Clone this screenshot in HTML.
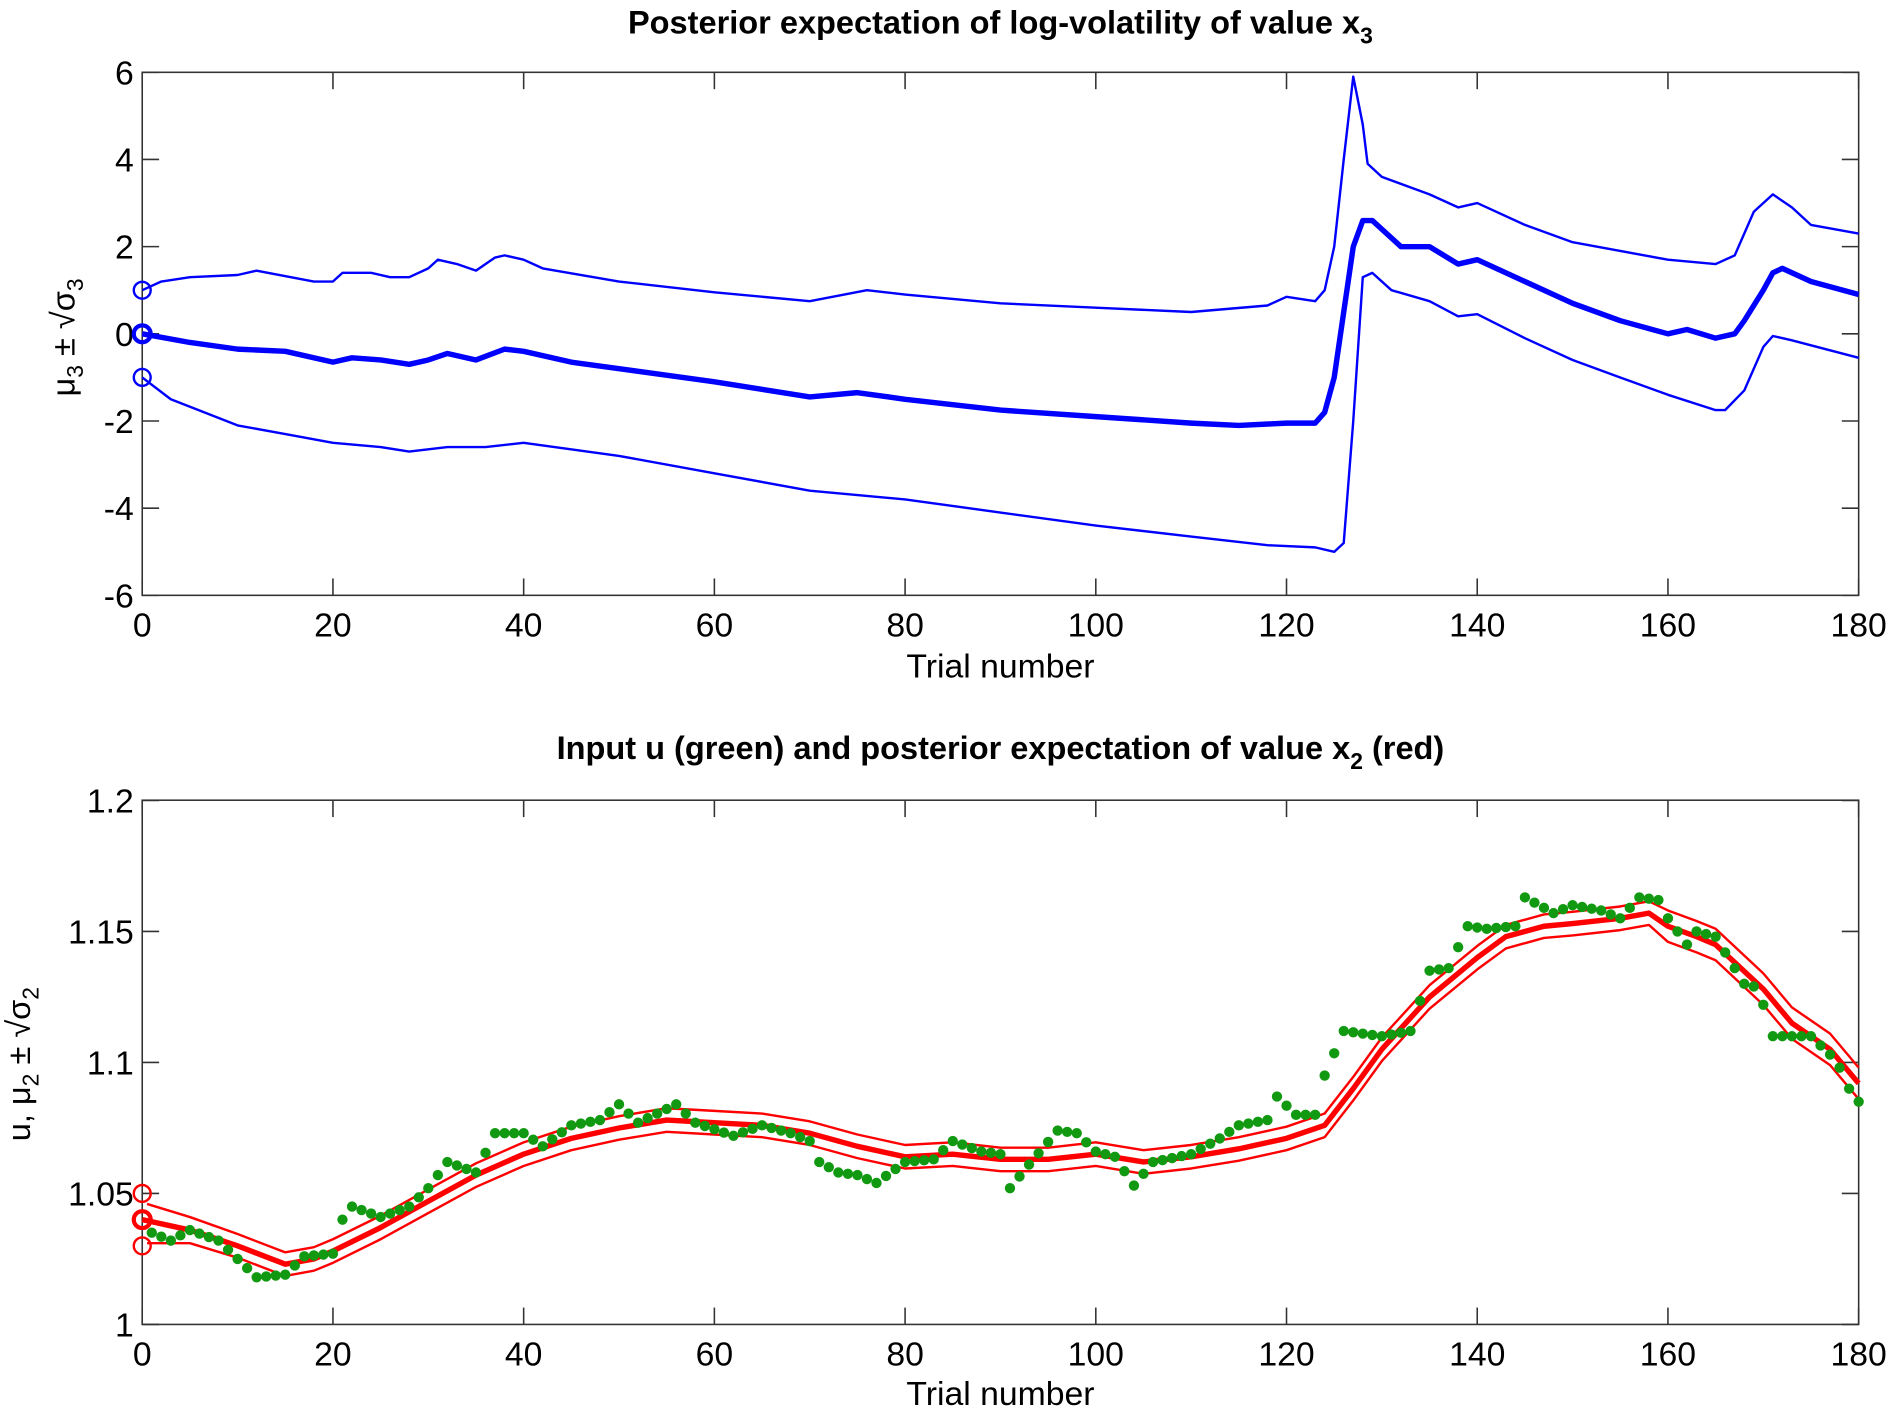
<!DOCTYPE html>
<html><head><meta charset="utf-8"><style>
html,body{margin:0;padding:0;background:#fff;}
svg{display:block;}
text{font-family:"Liberation Sans",sans-serif;fill:#000;}
</style></head><body>
<svg id="s" width="1890" height="1410" viewBox="0 0 1568 1170" preserveAspectRatio="none" xmlns="http://www.w3.org/2000/svg">
<rect width="1568" height="1170" fill="#fff"/>
<text x="830" y="28" font-size="27" font-weight="bold" text-anchor="middle">Posterior expectation of log-volatility of value x<tspan font-size="19" dy="8">3</tspan></text>
<text x="830" y="630" font-size="27" font-weight="bold" text-anchor="middle">Input u (green) and posterior expectation of value x<tspan font-size="19" dy="8">2</tspan><tspan dy="-8"> (red)</tspan></text>
<text x="830" y="562" font-size="28" text-anchor="middle">Trial number</text>
<text x="830" y="1166" font-size="28" text-anchor="middle">Trial number</text>
<text transform="translate(62,280) rotate(-90)" font-size="27" text-anchor="middle">μ<tspan font-size="19" dy="7">3</tspan><tspan dy="-7"> ± √σ</tspan><tspan font-size="19" dy="7">3</tspan></text>
<text transform="translate(25,883) rotate(-90)" font-size="27" text-anchor="middle">u, μ<tspan font-size="19" dy="7">2</tspan><tspan dy="-7"> ± √σ</tspan><tspan font-size="19" dy="7">2</tspan></text>
<g id="g"></g>
</svg>
<script>
var g=document.getElementById('g'),NS='http://www.w3.org/2000/svg';
function el(t,a){var e=document.createElementNS(NS,t);for(var k in a)e.setAttribute(k,a[k]);g.appendChild(e);return e;}
function txt(x,y,s,anc){var e=el('text',{x:x,y:y,'font-size':28,'text-anchor':anc});e.textContent=s;}
var L=118,R=1542,XS=(R-L)/180;
function X(t){return L+t*XS;}
var T1=60,B1=494;function Y1(v){return 277-v*36.17;}
var T2=664,B2=1099;function Y2(v){return B2-(v-1)*2174;}
function axes(T,B,yt,Yf,fmt){
 el('rect',{x:L,y:T,width:R-L,height:B-T,fill:'none',stroke:'#333','stroke-width':1.3});
 for(var t=0;t<=180;t+=20){var x=X(t);
  el('line',{x1:x,y1:B,x2:x,y2:B-14,stroke:'#333','stroke-width':1.3});
  el('line',{x1:x,y1:T,x2:x,y2:T+14,stroke:'#333','stroke-width':1.3});
  txt(x,B+34,String(t),'middle');}
 yt.forEach(function(v){var y=Yf(v);
  el('line',{x1:L,y1:y,x2:L+14,y2:y,stroke:'#333','stroke-width':1.3});
  el('line',{x1:R,y1:y,x2:R-14,y2:y,stroke:'#333','stroke-width':1.3});
  txt(L-7,y+10,fmt(v),'end');});
}
axes(T1,B1,[6,4,2,0,-2,-4,-6],Y1,function(v){return String(v);});
axes(T2,B2,[1,1.05,1.1,1.15,1.2],Y2,function(v){return String(+v.toFixed(2));});
function path(pts,Yf,col,w){var d=pts.map(function(p,i){return (i?'L':'M')+X(p[0]).toFixed(1)+','+Yf(p[1]).toFixed(1);}).join('');
 el('path',{d:d,fill:'none',stroke:col,'stroke-width':w,'stroke-linejoin':'round'});}
var mu3=[[0,0],[5,-0.2],[10,-0.35],[15,-0.4],[20,-0.65],[22,-0.55],[25,-0.6],[28,-0.7],[30,-0.6],[32,-0.45],[35,-0.6],[38,-0.35],[40,-0.4],[45,-0.65],[50,-0.8],[60,-1.1],[70,-1.45],[75,-1.35],[80,-1.5],[90,-1.75],[100,-1.9],[110,-2.05],[115,-2.1],[120,-2.05],[123,-2.05],[124,-1.8],[125,-1.0],[126,0.5],[127,2.0],[128,2.6],[129,2.6],[132,2.0],[135,2.0],[138,1.6],[140,1.7],[145,1.2],[150,0.7],[155,0.3],[160,0.0],[162,0.1],[165,-0.1],[167,0],[168,0.3],[170,1.0],[171,1.4],[172,1.5],[175,1.2],[180,0.9]];
var up3=[[0,1],[2,1.2],[5,1.3],[10,1.35],[12,1.45],[18,1.2],[20,1.2],[21,1.4],[24,1.4],[26,1.3],[28,1.3],[30,1.5],[31,1.7],[33,1.6],[35,1.45],[37,1.75],[38,1.8],[40,1.7],[42,1.5],[50,1.2],[60,0.95],[70,0.75],[76,1.0],[80,0.9],[90,0.7],[100,0.6],[110,0.5],[118,0.65],[120,0.85],[123,0.75],[124,1.0],[125,2.0],[126,4.0],[127,5.9],[128,4.8],[128.5,3.9],[130,3.6],[135,3.2],[138,2.9],[140,3.0],[145,2.5],[150,2.1],[160,1.7],[165,1.6],[167,1.8],[169,2.8],[171,3.2],[173,2.9],[175,2.5],[180,2.3]];
var lo3=[[0,-1],[3,-1.5],[10,-2.1],[15,-2.3],[20,-2.5],[25,-2.6],[28,-2.7],[32,-2.6],[36,-2.6],[40,-2.5],[50,-2.8],[60,-3.2],[70,-3.6],[80,-3.8],[90,-4.1],[100,-4.4],[110,-4.65],[118,-4.85],[123,-4.9],[125,-5.0],[126,-4.8],[127,-2.0],[128,1.3],[129,1.4],[131,1.0],[135,0.75],[138,0.4],[140,0.45],[145,-0.1],[150,-0.6],[155,-1.0],[160,-1.4],[165,-1.75],[166,-1.75],[168,-1.3],[170,-0.3],[171,-0.05],[173,-0.15],[180,-0.55]];
path(up3,Y1,'#0000ff',2);path(lo3,Y1,'#0000ff',2);path(mu3,Y1,'#0000ff',4.5);
[1,-1].forEach(function(v){el('circle',{cx:X(0),cy:Y1(v),r:7,fill:'none',stroke:'#0000ff','stroke-width':2});});
el('circle',{cx:X(0),cy:Y1(0),r:7,fill:'none',stroke:'#0000ff','stroke-width':3.5});
var mu2=[[0,1.04],[5,1.036],[10,1.03],[15,1.023],[18,1.025],[20,1.028],[25,1.037],[30,1.047],[35,1.057],[40,1.065],[45,1.071],[50,1.075],[55,1.078],[60,1.077],[65,1.076],[70,1.073],[75,1.068],[80,1.064],[85,1.065],[90,1.063],[95,1.063],[100,1.065],[105,1.062],[110,1.064],[115,1.067],[120,1.071],[124,1.076],[127,1.09],[130,1.105],[135,1.125],[140,1.14],[143,1.148],[147,1.152],[150,1.153],[155,1.155],[158,1.157],[160,1.152],[163,1.148],[165,1.145],[170,1.128],[173,1.115],[177,1.105],[180,1.092]];
function band(t){return t<1?0.01:(t<8?0.005:(t>158?0.006:0.0045));}
var up2=mu2.map(function(p){return [p[0],p[1]+band(p[0])];});
var lo2=mu2.map(function(p){return [p[0],p[1]-band(p[0])];});
up2[0]=[0.5,1.046];lo2[0]=[0.5,1.031];
path(up2,Y2,'#ff0000',2);path(lo2,Y2,'#ff0000',2);path(mu2,Y2,'#ff0000',4.5);
[1.05,1.03].forEach(function(v){el('circle',{cx:X(0),cy:Y2(v),r:7,fill:'none',stroke:'#ff0000','stroke-width':2});});
el('circle',{cx:X(0),cy:Y2(1.04),r:7,fill:'none',stroke:'#ff0000','stroke-width':3.5});
var an=[[1,1.035],[3,1.032],[5,1.036],[8,1.032],[10,1.025],[12,1.018],[15,1.019],[17,1.026],[20,1.027],[21,1.04],[22,1.045],[25,1.041],[28,1.045],[30,1.052],[32,1.062],[35,1.058],[37,1.073],[40,1.073],[42,1.068],[45,1.076],[48,1.078],[50,1.084],[52,1.077],[56,1.084],[58,1.077],[62,1.072],[65,1.076],[68,1.073],[70,1.07],[71,1.062],[73,1.058],[75,1.057],[77,1.054],[80,1.062],[83,1.063],[85,1.07],[88,1.066],[90,1.065],[91,1.052],[93,1.061],[96,1.074],[98,1.073],[100,1.066],[102,1.064],[104,1.053],[106,1.062],[110,1.065],[113,1.071],[115,1.076],[118,1.078],[119,1.087],[121,1.08],[123,1.08],[124,1.095],[126,1.112],[128,1.111],[130,1.11],[133,1.112],[135,1.135],[137,1.136],[139,1.152],[141,1.151],[144,1.152],[145,1.163],[148,1.157],[150,1.16],[153,1.158],[155,1.155],[157,1.163],[159,1.162],[160,1.155],[162,1.145],[163,1.15],[165,1.148],[166,1.142],[168,1.13],[169,1.129],[170,1.122],[171,1.11],[173,1.11],[175,1.11],[177,1.103],[178,1.098],[179,1.09],[180,1.085]];
for(var t=1;t<=180;t++){var i=0;while(i<an.length-1&&an[i+1][0]<t)i++;var a=an[i],b=an[Math.min(i+1,an.length-1)];
 var v=(b[0]==a[0])?a[1]:(t<=a[0]?a[1]:a[1]+(b[1]-a[1])*(t-a[0])/(b[0]-a[0]));
 if(t==a[0])v=a[1];
 el('circle',{cx:X(t),cy:Y2(v),r:4.3,fill:'#119911'});}
</script>
</body></html>
